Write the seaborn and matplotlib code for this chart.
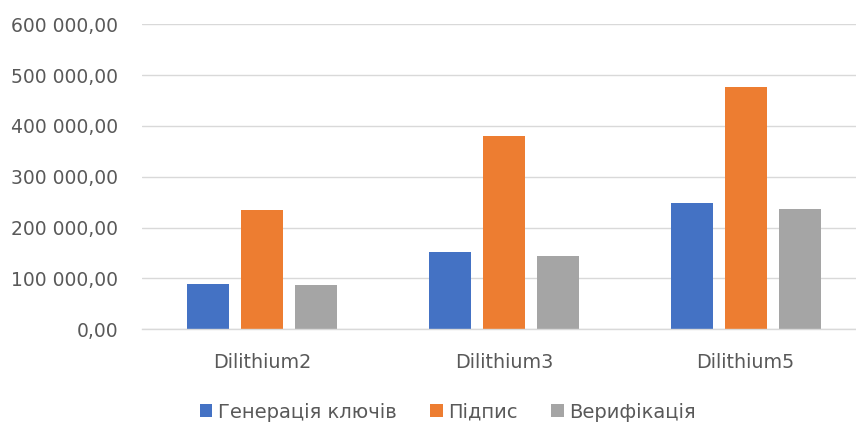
import matplotlib
matplotlib.use("Agg")
import matplotlib.pyplot as plt
import matplotlib.ticker as mticker
from matplotlib.patches import Patch
import seaborn as sns
import pandas as pd

categories = ["Dilithium2", "Dilithium3", "Dilithium5"]
series_names = ["Генерація ключів", "Підпис", "Верифікація"]
keygen = [89000, 152000, 248000]
sign = [234000, 381000, 476000]
verify = [87000, 145000, 236000]
colors = ["#4472C4", "#ED7D31", "#A5A5A5"]

rows = []
for name, vals in zip(series_names, [keygen, sign, verify]):
    for c, v in zip(categories, vals):
        rows.append({"cat": c, "series": name, "value": v})
df = pd.DataFrame(rows)

sns.set_theme(style="white")
plt.rcParams["font.family"] = ["DejaVu Sans"]

W, H = 856, 424
fig = plt.figure(figsize=(W / 100, H / 100), dpi=100)
left, right = 141.5, 866.5
top, bottom = 24.3, 329.3
ax = fig.add_axes([left / W, (H - bottom) / H, (right - left) / W, (bottom - top) / H])

sns.barplot(data=df, x="cat", y="value", hue="series", order=categories,
            hue_order=series_names, palette=colors, width=0.67, gap=0.22,
            linewidth=0, saturation=1, ax=ax, legend=False)

ax.set_xlim(-0.5, 2.5)
ax.set_ylim(0, 600000)
ax.yaxis.set_major_locator(mticker.MultipleLocator(100000))
ax.yaxis.set_major_formatter(mticker.FuncFormatter(
    lambda v, p: f"{v:,.2f}".replace(",", " ").replace(".", ",")))
ax.grid(axis="y", color="#D9D9D9", linewidth=1.0)
ax.set_axisbelow(True)
for s in ["top", "right", "left"]:
    ax.spines[s].set_visible(False)
ax.spines["bottom"].set_color("#D9D9D9")
ax.spines["bottom"].set_linewidth(1.0)
ax.set_xlabel("")
ax.set_ylabel("")
ax.tick_params(axis="both", length=0, colors="#595959", labelsize=13.5)
ax.tick_params(axis="x", labelsize=13.8)
ax.tick_params(axis="y", pad=17)
ax.tick_params(axis="x", pad=17)

handles = [Patch(facecolor=c, edgecolor="none", label=n) for c, n in zip(colors, series_names)]
fig.legend(handles=handles, loc="center", bbox_to_anchor=(448 / W, 1 - 412 / H), ncol=3,
           frameon=False, fontsize=14, handlelength=0.65, handleheight=0.65,
           handletextpad=0.3, columnspacing=1.7, labelcolor="#595959")

fig.savefig("out.png", dpi=100)
